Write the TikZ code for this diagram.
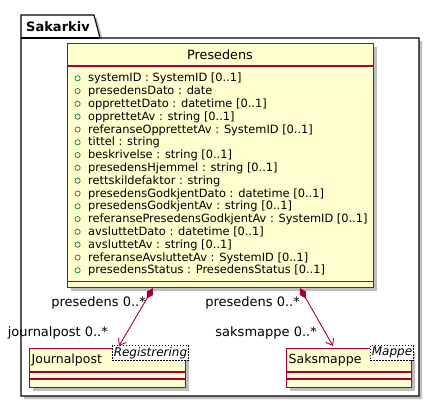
\documentclass[tikz,border=0pt]{standalone}
\usepackage{fontspec}
\setmainfont{DejaVu Sans}
\usetikzlibrary{arrows.meta,shadows,calc}
\definecolor{umlborder}{HTML}{A80036}
\definecolor{umlfill}{HTML}{FEFECE}
\definecolor{umlgreen}{HTML}{038048}
\tikzset{
  shad/.style={drop shadow={shadow xshift=3pt,shadow yshift=-3pt,fill=black!45,opacity=.55}},
  pkg/.style={draw=black,line width=1.1pt,fill=white,shad},
  classbox/.style={draw=umlborder,fill=umlfill,line width=1.1pt,inner sep=0pt,shad},
  sepline/.style={draw=umlborder,line width=1.1pt},
  attr/.style={anchor=base west,inner sep=0pt,font=\fontsize{11.4}{14}\selectfont},
  vis/.style={draw=umlgreen,line width=0.7pt},
  cname/.style={anchor=west,inner sep=0pt,font=\fontsize{12.5}{15}\selectfont},
  stereo/.style={draw=black,dash pattern=on 1.5pt off 1.5pt,line width=0.6pt,fill=white,
    inner xsep=1.5pt,inner ysep=0pt,minimum height=15pt,font=\fontsize{12}{14}\itshape},
  rolelbl/.style={anchor=east,inner sep=0pt,font=\fontsize{13}{15}\selectfont},
  assoc/.style={draw=umlborder,line width=0.9pt,
    {Diamond[length=12pt,width=7pt,fill=umlborder]}-{Straight Barb[length=6pt,width=9pt]}}
}
\begin{document}
\begin{tikzpicture}[x=1pt,y=-1pt]
\useasboundingbox (0,0) rectangle (440,407);
% package
\draw[pkg] (21,15) -- (94,15) -- (100,38) -- (419,38) -- (419,396) -- (21,396) -- cycle;
\draw[line width=1.1pt] (21,38) -- (100,38);
\node[anchor=west,inner sep=0pt,font=\fontsize{13}{15}\bfseries] (pkglabel) at (26,26.5) {Sakarkiv};
% Presedens
\node[classbox,anchor=north west,minimum width=306pt,minimum height=244pt] (pres) at (67,43) {};
\draw[sepline] ($(pres.north west)+(0,23)$) -- ($(pres.north east)+(0,23)$);
\draw[sepline] ($(pres.south west)+(0,-7)$) -- ($(pres.south east)+(0,-7)$);
\node[inner sep=0pt,font=\fontsize{12.8}{15}\selectfont] (prestitle) at (220,54.5) {Presedens};
\foreach \t [count=\i from 0] in {
  {systemID : SystemID [0..1]},
  {presedensDato : date},
  {opprettetDato : datetime [0..1]},
  {opprettetAv : string [0..1]},
  {referanseOpprettetAv : SystemID [0..1]},
  {tittel : string},
  {beskrivelse : string [0..1]},
  {presedensHjemmel : string [0..1]},
  {rettskildefaktor : string},
  {presedensGodkjentDato : datetime [0..1]},
  {presedensGodkjentAv : string [0..1]},
  {referansePresedensGodkjentAv : SystemID [0..1]},
  {avsluttetDato : datetime [0..1]},
  {avsluttetAv : string [0..1]},
  {referanseAvsluttetAv : SystemID [0..1]},
  {presedensStatus : PresedensStatus [0..1]}} {
  \pgfmathsetmacro{\yy}{77.8+\i*12.8}
  \draw[vis] (77.6,\yy+0.5) circle (2.6pt);
  \node[attr] (attr\i) at (88,\yy+4) {\t};
}
% Journalpost
\node[classbox,anchor=north west,minimum width=156pt,minimum height=39pt] (jp) at (29,348) {};
\draw[sepline] ($(jp.north west)+(0,24)$) -- ($(jp.north east)+(0,24)$);
\draw[sepline] ($(jp.north west)+(0,31)$) -- ($(jp.north east)+(0,31)$);
\node[cname] (jpname) at (31.5,360.5) {Journalpost};
\node[stereo,anchor=north east] (jpst) at (189,345) {Registrering};
% Saksmappe
\node[classbox,anchor=north west,minimum width=125pt,minimum height=39pt] (sm) at (286,348) {};
\draw[sepline] ($(sm.north west)+(0,24)$) -- ($(sm.north east)+(0,24)$);
\draw[sepline] ($(sm.north west)+(0,31)$) -- ($(sm.north east)+(0,31)$);
\node[cname] (smname) at (288.5,360.5) {Saksmappe};
\node[stereo,anchor=north east] (smst) at (414,345) {Mappe};
% connectors
\coordinate (d1) at ($(pres.south west)+(86,0)$);
\coordinate (a1) at ($(jp.north west)+(90,-2)$);
\coordinate (d2) at ($(pres.south west)+(233,0)$);
\coordinate (a2) at ($(sm.north west)+(47,-2)$);
\draw[assoc] (d1) -- (a1);
\draw[assoc] (d2) -- (a2);
\node[rolelbl] (r1a) at (146,303) {presedens 0..*};
\node[rolelbl] (r1b) at (108,333) {journalpost 0..*};
\node[rolelbl] (r2a) at (300,303) {presedens 0..*};
\node[rolelbl] (r2b) at (317,333) {saksmappe 0..*};
\end{tikzpicture}
\end{document}
